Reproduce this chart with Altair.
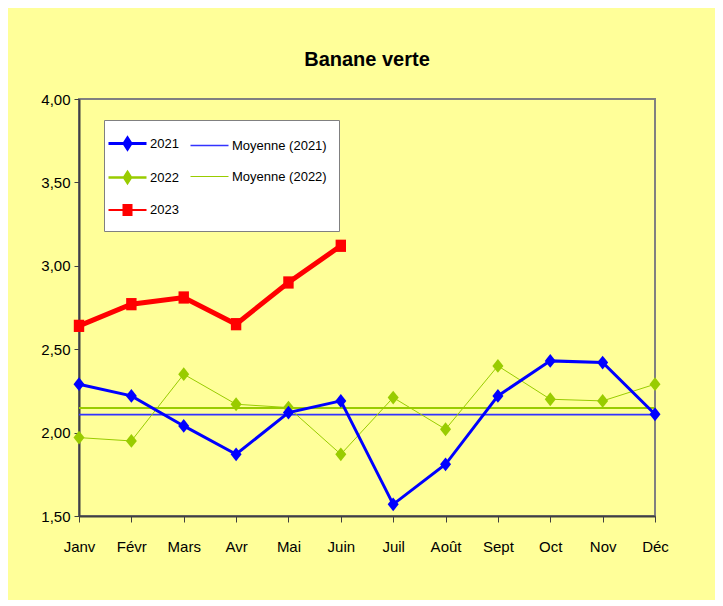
import altair as alt
import pandas as pd

months = ["Janv", "Févr", "Mars", "Avr", "Mai", "Juin", "Juil", "Août", "Sept", "Oct", "Nov", "Déc"]
v2021 = [2.29, 2.22, 2.04, 1.87, 2.12, 2.19, 1.57, 1.81, 2.22, 2.43, 2.42, 2.11]
v2022 = [1.97, 1.95, 2.35, 2.17, 2.15, 1.87, 2.21, 2.02, 2.40, 2.20, 2.19, 2.29]
v2023 = [2.64, 2.77, 2.81, 2.65, 2.90, 3.12]
# legend entries (filled column by column: 3 rows x 2 columns)
series = ["2021", "2022", "2023", "Moyenne (2021)", "Moyenne (2022)"]
y_ticks = [1.5, 2.0, 2.5, 3.0, 3.5, 4.0]

BLUE = "#0000FF"
BLUE_MEAN = "#3333FF"
GREEN = "#99CC00"
RED = "#FF0000"
FONT = "Liberation Sans Narrow, Arial Narrow, Liberation Sans, Arial, sans-serif"

df21 = pd.DataFrame({"month": months, "value": v2021, "series": "2021"})
df22 = pd.DataFrame({"month": months, "value": v2022, "series": "2022"})
df23 = pd.DataFrame({"month": months[:len(v2023)], "value": v2023, "series": "2023"})
dflegend = pd.DataFrame({"series": series, "month": months[0], "value": 0.0})

xenc = alt.X("month:N", sort=months,
             scale=alt.Scale(domain=months, padding=0),
             axis=alt.Axis(title=None, labelAngle=0, tickSize=6, labelPadding=17,
                           labelFontSize=15, labelFont=FONT, labelColor="black",
                           domainColor="#404040", domainWidth=2, tickColor="#404040",
                           tickWidth=1, grid=False))
yenc = alt.Y("value:Q",
             scale=alt.Scale(domain=[1.5, 4.0], zero=False, nice=False),
             axis=alt.Axis(title=None, values=y_ticks, tickSize=5, labelPadding=4,
                           labelFontSize=15, labelFont=FONT, labelColor="black",
                           labelExpr="replace(format(datum.value, '.2f'), '.', ',')",
                           domainColor="#404040", domainWidth=2, tickColor="#404040",
                           grid=False))

DIAMOND = "M0,-1L0.8,0L0,1L-0.8,0Z"
SQUARE = "M-0.85,-1H0.85V1H-0.85Z"

def mean_rule(df, color, width):
    return alt.Chart(df).mark_rule(color=color, strokeWidth=width).encode(
        y=alt.Y("mean(value):Q", scale=alt.Scale(domain=[1.5, 4.0], zero=False, nice=False))
    )

mean21 = mean_rule(df21, BLUE_MEAN, 1.6)
mean22 = mean_rule(df22, GREEN, 1.8)

line22 = alt.Chart(df22).mark_line(color=GREEN, strokeWidth=1).encode(x=xenc, y=yenc)
pts22 = alt.Chart(df22).mark_point(shape=DIAMOND, size=190, filled=True, color=GREEN, opacity=1).encode(x=xenc, y=yenc)
line21 = alt.Chart(df21).mark_line(color=BLUE, strokeWidth=3).encode(x=xenc, y=yenc)
pts21 = alt.Chart(df21).mark_point(shape=DIAMOND, size=190, filled=True, color=BLUE, opacity=1).encode(x=xenc, y=yenc)
line23 = alt.Chart(df23).mark_line(color=RED, strokeWidth=5).encode(x=xenc, y=yenc)
pts23 = alt.Chart(df23).mark_point(shape=SQUARE, size=150, filled=True, color=RED, opacity=1).encode(x=xenc, y=yenc)

LD = "M-1.9,0H1.9M0,-0.55L0.35,0L0,0.55L-0.35,0Z"
LS = "M-1.9,0H1.9M-0.4,-0.5H0.4V0.5H-0.4Z"
LL = "M-1.9,0H1.9"
leg_shapes = [LD, LD, LS, LL, LL]
leg_colors = [BLUE, GREEN, RED, BLUE_MEAN, GREEN]
leg_widths = [3, 1, 5, 1.5, 1.8]

legend = alt.Legend(title=None, orient="none", legendX=25, legendY=21, columns=2,
                    gridAlign="each", fillColor="white", strokeColor="#808080",
                    padding=12, symbolSize=400, labelOffset=11, rowPadding=11,
                    columnPadding=8, labelFont=FONT, labelFontSize=13,
                    labelColor="black", symbolOpacity=1)

leg = alt.Chart(dflegend).mark_point(filled=True, clip=True, size=400, opacity=1).encode(
    x=xenc, y=yenc,
    fill=alt.Fill("series:N", scale=alt.Scale(domain=series, range=leg_colors), legend=legend),
    stroke=alt.Stroke("series:N", scale=alt.Scale(domain=series, range=leg_colors), legend=legend),
    shape=alt.Shape("series:N", scale=alt.Scale(domain=series, range=leg_shapes), legend=legend),
    strokeWidth=alt.StrokeWidth("series:N", scale=alt.Scale(domain=series, range=leg_widths), legend=legend),
)

chart = alt.layer(
    mean22, mean21, line22, pts22, line21, pts21, line23, pts23, leg
).properties(
    width=576, height=417,
    title=alt.Title("Banane verte", fontSize=20, font=FONT, fontWeight="bold",
                    anchor="middle", offset=22, color="black"),
    autosize=alt.AutoSizeParams(type="none"),
    padding={"left": 71, "top": 91, "right": 60, "bottom": 84},
    background="#FFFF99",
).configure_view(stroke="#808080", strokeWidth=2)

chart.save("out.html", embed_options={"renderer": "svg", "actions": False})
